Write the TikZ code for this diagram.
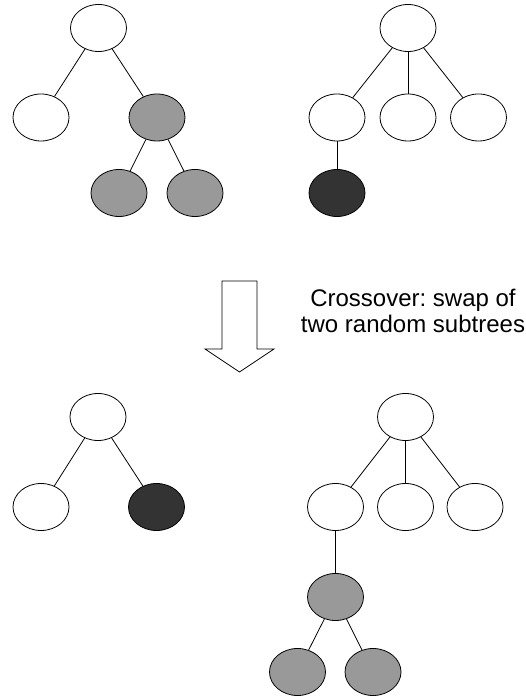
\documentclass[tikz,border=0pt]{standalone}
\usepackage{fontspec}
\setmainfont{Liberation Sans}
\usetikzlibrary{shapes.geometric}
\definecolor{subgray}{HTML}{999999}
\definecolor{subdark}{HTML}{333333}
\frenchspacing
\tikzset{
    tnode/.style={ellipse, draw, fill=white, line width=0.8pt, minimum width=56pt, minimum height=47pt, inner sep=0pt},
    gnode/.style={tnode, fill=subgray},
    dnode/.style={tnode, fill=subdark},
    edge/.style={line width=0.8pt}
}
\begin{document}
\begin{tikzpicture}[x=1pt,y=1pt]
        \useasboundingbox (0,0) rectangle (526,696);
        % parents
        \node [tnode] (tlRoot) at (98.5,668) {};
        \node [tnode] (tlA) at (41,578.5) {};
        \node [gnode] (tlB) at (157,578.5) {};
        \node [gnode] (tlBa) at (119,503) {};
        \node [gnode] (tlBb) at (195,503) {};
        \draw [edge] (tlRoot) -- (tlA);
        \draw [edge] (tlRoot) -- (tlB);
        \draw [edge] (tlB) -- (tlBa);
        \draw [edge] (tlB) -- (tlBb);
        \node [tnode] (trRoot) at (408,668) {};
        \node [tnode] (trA) at (337,578.5) {};
        \node [tnode] (trB) at (408,578.5) {};
        \node [tnode] (trC) at (478.5,578.5) {};
        \node [dnode] (trAa) at (337,503) {};
        \draw [edge] (trRoot) -- (trA);
        \draw [edge] (trRoot) -- (trB);
        \draw [edge] (trRoot) -- (trC);
        \draw [edge] (trA) -- (trAa);
        % crossover arrow
        \draw [edge] (222,415) -- (257,415) -- (257,347) -- (274,347) -- (239.5,324)
            -- (205,347) -- (222,347) -- cycle;
        \node [anchor=north, inner sep=0pt, align=center, font=\fontsize{24}{26}\selectfont] (label) at (413,407)
            {Crossover: swap of\\two random subtrees};
        % children
        \node [tnode] (blRoot) at (98,279) {};
        \node [tnode] (blA) at (41,189) {};
        \node [dnode] (blB) at (156.5,189) {};
        \draw [edge] (blRoot) -- (blA);
        \draw [edge] (blRoot) -- (blB);
        \node [tnode] (brRoot) at (405.5,279) {};
        \node [tnode] (brA) at (335.5,189) {};
        \node [tnode] (brB) at (405.5,189) {};
        \node [tnode] (brC) at (475,189) {};
        \node [gnode] (brAa) at (335.5,99) {};
        \node [gnode] (brAaa) at (297.5,24) {};
        \node [gnode] (brAab) at (373,24) {};
        \draw [edge] (brRoot) -- (brA);
        \draw [edge] (brRoot) -- (brB);
        \draw [edge] (brRoot) -- (brC);
        \draw [edge] (brA) -- (brAa);
        \draw [edge] (brAa) -- (brAaa);
        \draw [edge] (brAa) -- (brAab);
\end{tikzpicture}
\end{document}
